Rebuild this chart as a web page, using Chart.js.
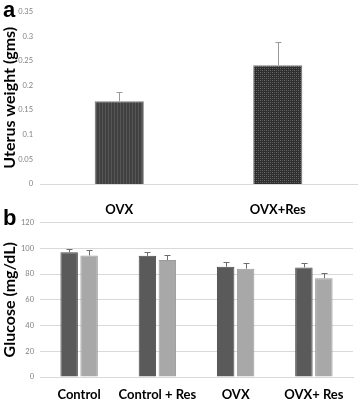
<!DOCTYPE html>
<html>
<head>
<meta charset="utf-8">
<script src="https://cdn.jsdelivr.net/npm/chart.js@4.4.1/dist/chart.umd.min.js"></script>
<style>
  html,body{margin:0;padding:0;background:#fff;}
  body{width:358px;height:401px;position:relative;overflow:hidden;font-family:Lato, "Open Sans", sans-serif;}
  .wrap{position:absolute;left:0;width:358px;}
  #wa{top:0;height:218px;}
  #wb{top:212px;height:189px;}
  .lbl{position:absolute;font-family:"Liberation Sans", Arial, sans-serif;font-weight:bold;font-size:22px;color:#000;line-height:1;}
</style>
</head>
<body>
<div class="wrap" id="wa"><canvas id="ca"></canvas></div>
<div class="wrap" id="wb"><canvas id="cb"></canvas></div>
<div class="lbl" style="left:3px;top:-1px;">a</div>
<div class="lbl" style="left:3px;top:207px;">b</div>
<script>
// ---- data ----
const categoriesA = ['OVX', 'OVX+Res'];
const uterusWeight = [0.168, 0.241];
const uterusErr = [0.019, 0.047];
const ticksA = [0, 0.05, 0.1, 0.15, 0.2, 0.25, 0.3, 0.35];

const categoriesB = ['Control', 'Control + Res', 'OVX', 'OVX+ Res'];
const glucoseSeries1 = [96.9, 94.1, 85.6, 85.1];
const glucoseErr1 = [2.8, 2.8, 3.6, 3.6];
const glucoseSeries2 = [94.4, 90.8, 84.1, 76.7];
const glucoseErr2 = [4.5, 3.6, 4.6, 4.1];
const ticksB = [0, 20, 40, 60, 80, 100, 120];

// ---- patterns ----
function stripePattern(){
  const c = document.createElement('canvas'); c.width = 3; c.height = 3;
  const g = c.getContext('2d');
  g.fillStyle = '#404040'; g.fillRect(0,0,3,3);
  g.fillStyle = '#565656'; g.fillRect(0,0,1,3);
  return g.createPattern(c, 'repeat');
}
function checkerPattern(){
  const c = document.createElement('canvas'); c.width = 4; c.height = 4;
  const g = c.getContext('2d');
  g.fillStyle = '#2e2e2e'; g.fillRect(0,0,4,4);
  g.fillStyle = '#6a6a6a'; g.fillRect(0,0,1,1); g.fillRect(2,2,1,1);
  g.fillStyle = '#555555'; g.fillRect(2,0,1,1); g.fillRect(0,2,1,1);
  return g.createPattern(c, 'repeat');
}

// ---- error bar plugin (upper half only) ----
const errorBars = {
  id: 'errorBars',
  afterDatasetsDraw(chart, args, opts){
    const ctx = chart.ctx;
    const y = chart.scales.y;
    chart.data.datasets.forEach((ds, di) => {
      const meta = chart.getDatasetMeta(di);
      if (!ds.errors) return;
      meta.data.forEach((bar, i) => {
        const top = y.getPixelForValue(ds.data[i] + ds.errors[i]);
        const x = Math.round(bar.x) + 0.5;
        ctx.save();
        ctx.strokeStyle = opts.color || '#8c8c8c';
        ctx.lineWidth = opts.width || 1;
        ctx.beginPath();
        ctx.moveTo(x, bar.y);
        ctx.lineTo(x, Math.round(top) + 0.5);
        ctx.moveTo(x - (opts.cap || 3), Math.round(top) + 0.5);
        ctx.lineTo(x + (opts.cap || 3), Math.round(top) + 0.5);
        ctx.stroke();
        ctx.restore();
      });
    });
  }
};

const labelFont = {family: 'Lato, "Open Sans", sans-serif', weight: 'bold', size: 13};
const titleFont = {family: 'Lato, "Open Sans", sans-serif', weight: 'bold', size: 16};
const tickFont = {family: 'Lato, "Open Sans", sans-serif', size: 7.5};

new Chart(document.getElementById('ca'), {
  type: 'bar',
  data: {
    labels: categoriesA,
    datasets: [{
      data: uterusWeight,
      errors: uterusErr,
      backgroundColor: [stripePattern(), checkerPattern()],
      borderColor: '#7a7a7a',
      borderWidth: 1,
      barPercentage: 1,
      categoryPercentage: 0.31
    }]
  },
  options: {
    responsive: true, maintainAspectRatio: false, animation: false,
    layout: {padding: {top: 6, right: 1, bottom: 0, left: 0}},
    plugins: {legend: {display: false}, tooltip: {enabled: false},
      errorBars: {color: '#999999', cap: 3}},
    scales: {
      x: {
        grid: {display: false, drawTicks: false},
        border: {display: true, color: '#d9d9d9'},
        ticks: {color: '#000', font: labelFont, padding: 18, maxRotation: 0, autoSkip: false},
        afterFit(s){ s.height = 34; }
      },
      y: {
        min: 0, max: 0.35,
        afterBuildTicks(s){ s.ticks = ticksA.map(v => ({value: v})); },
        grid: {display: false, drawTicks: false},
        border: {display: false},
        ticks: {color: '#808080', font: tickFont, padding: 7,
          callback: v => String(v)},
        title: {display: true, text: 'Uterus weight (gms)', color: '#000', font: titleFont, padding: {top: 0, bottom: 0}},
        afterFit(s){ s.width = 40; }
      }
    }
  },
  plugins: [errorBars]
});

new Chart(document.getElementById('cb'), {
  type: 'bar',
  data: {
    labels: categoriesB,
    datasets: [{
      data: glucoseSeries1,
      errors: glucoseErr1,
      backgroundColor: '#5a5a5a',
      borderColor: '#4a4a4a',
      borderWidth: 1,
      barPercentage: 0.875,
      categoryPercentage: 0.51
    }, {
      data: glucoseSeries2,
      errors: glucoseErr2,
      backgroundColor: '#a8a8a8',
      borderColor: '#9a9a9a',
      borderWidth: 1,
      barPercentage: 0.875,
      categoryPercentage: 0.51
    }]
  },
  options: {
    responsive: true, maintainAspectRatio: false, animation: false,
    layout: {padding: {top: 7, right: 5, bottom: 0, left: 0}},
    plugins: {legend: {display: false}, tooltip: {enabled: false},
      errorBars: {color: '#6e6e6e', cap: 3}},
    scales: {
      x: {
        grid: {display: false, drawTicks: false},
        border: {display: true, color: '#d9d9d9'},
        ticks: {color: '#000', font: labelFont, padding: 10, maxRotation: 0, autoSkip: false},
        afterFit(s){ s.height = 24; }
      },
      y: {
        min: 0, max: 120,
        afterBuildTicks(s){ s.ticks = ticksB.map(v => ({value: v})); },
        grid: {color: '#d9d9d9', drawTicks: false},
        border: {display: false},
        ticks: {color: '#808080', font: tickFont, padding: 6},
        title: {display: true, text: 'Glucose (mg/dL)', color: '#000', font: titleFont, padding: {top: 0, bottom: 0}},
        afterFit(s){ s.width = 40; }
      }
    }
  },
  plugins: [errorBars]
});
</script>
</body>
</html>
